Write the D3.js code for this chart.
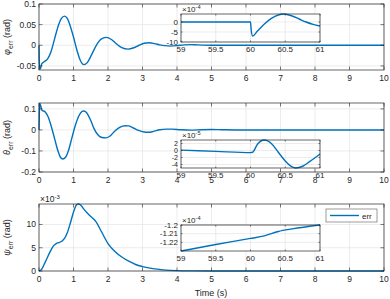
<!DOCTYPE html>
<html>
<head>
<meta charset="utf-8">
<script src="https://cdn.jsdelivr.net/npm/d3@7"></script>
<style>
body { margin: 0; background: #fff; }
text { font-family: "Liberation Sans", Arial, sans-serif; fill: #262626; }
</style>
</head>
<body>
<svg id="chart" width="390" height="299"></svg>
<script>
// values (time in s, errors in rad)
const phiT   = [0, 0.005, 0.02, 0.05, 0.08, 0.15, 0.25, 0.35, 0.45, 0.55, 0.65, 0.74, 0.82, 0.9, 1.0, 1.1, 1.2, 1.3, 1.4, 1.5, 1.6, 1.7, 1.8, 1.95, 2.1, 2.25, 2.4, 2.58, 2.75, 2.9, 3.05, 3.2, 3.35, 3.5, 3.65, 3.8, 4.0, 4.2, 4.4, 4.6, 5, 6, 7, 8, 9, 10];
const phiV   = [0, -0.03, -0.058, -0.055, -0.045, -0.04, -0.033, -0.015, 0.015, 0.045, 0.065, 0.0705, 0.065, 0.048, 0.02, -0.012, -0.037, -0.047, -0.042, -0.027, -0.01, 0.005, 0.015, 0.019, 0.014, 0.003, -0.006, -0.0095, -0.006, 0, 0.005, 0.006, 0.004, 0.001, -0.001, -0.002, -0.001, 0.001, 0.0015, 0.0008, 0, 0, 0, 0, 0, 0];

const thetaT = [0, 0.01, 0.02, 0.05, 0.08, 0.18, 0.27, 0.35, 0.45, 0.55, 0.62, 0.69, 0.77, 0.85, 0.95, 1.05, 1.15, 1.25, 1.3, 1.38, 1.5, 1.6, 1.7, 1.8, 1.94, 2.05, 2.2, 2.35, 2.5, 2.6, 2.75, 2.9, 3.05, 3.17, 3.3, 3.5, 3.7, 3.85, 4.1, 4.4, 4.7, 5.0, 5.3, 5.7, 7, 10];
const thetaV = [0, 0.08, 0.126, 0.115, 0.095, 0.085, 0.06, 0.02, -0.04, -0.1, -0.13, -0.138, -0.13, -0.1, -0.04, 0.02, 0.065, 0.088, 0.09, 0.082, 0.045, 0.005, -0.022, -0.035, -0.038, -0.03, -0.005, 0.013, 0.02, 0.019, 0.008, -0.003, -0.01, -0.011, -0.008, 0.001, 0.004, 0.004, 0.001, -0.001, 0.001, 0.002, 0.001, 0, 0, 0];

const psiT   = [0, 0.08, 0.18, 0.32, 0.42, 0.5, 0.57, 0.66, 0.74, 0.82, 0.92, 1.02, 1.1, 1.15, 1.22, 1.3, 1.42, 1.55, 1.65, 1.8, 2.0, 2.2, 2.4, 2.6, 2.8, 3.0, 3.3, 3.6, 4.0, 4.5, 5, 7, 10];
const psiV   = [0, 0.4, 1.9, 4.1, 5.4, 5.9, 6.1, 6.4, 7.0, 8.2, 10.6, 13.1, 14.3, 14.4, 14.1, 13.3, 12.3, 11.4, 10.6, 8.6, 5.9, 4.2, 3.0, 2.1, 1.4, 0.95, 0.5, 0.25, 0.08, 0.02, 0, 0, 0]; // x1e-3

// zoomed windows 59..61 s
const zPhiT   = [59, 59.5, 60, 60.01, 60.03, 60.1, 60.2, 60.3, 60.4, 60.48, 60.6, 60.7, 60.8, 60.9, 61];
const zPhiV   = [0, 0, 0, -4, -7, -4.5, -1, 1.8, 3.5, 4, 3, 1.5, 0, -1.2, -2]; // x1e-4
const zThetaT = [59, 59.5, 60, 60.03, 60.1, 60.2, 60.3, 60.4, 60.5, 60.6, 60.65, 60.75, 60.85, 61];
const zThetaV = [0.1, -0.25, -0.6, -0.5, 1.8, 3, 2, -0.5, -3, -4.7, -5, -4.5, -3.2, -1]; // x1e-5
const zPsiT   = [59, 59.5, 60, 60.2, 60.4, 60.6, 61];
const zPsiV   = [-1.23, -1.2225, -1.2155, -1.2125, -1.2075, -1.2045, -1.2]; // x1e-4

const mainXTicks = [0, 1, 2, 3, 4, 5, 6, 7, 8, 9, 10];
const zoomXTicks = [59, 59.5, 60, 60.5, 61];

const BLUE = "#0072BD";
const svg = d3.select("#chart");

function panel(o) {
    const x = d3.scaleLinear().domain(o.xd).range([o.x0, o.x1]);
    const y = d3.scaleLinear().domain(o.yd).range([o.y1, o.y0]);
    const g = svg.append("g");
    const tl = o.tick;

    if (o.fill) g.append("rect").attr("x", o.x0).attr("y", o.y0)
        .attr("width", o.x1 - o.x0).attr("height", o.y1 - o.y0).attr("fill", "#fff");

    // grid
    g.append("g").selectAll("line").data(o.xt).enter().append("line")
        .attr("x1", d => x(d)).attr("x2", d => x(d)).attr("y1", o.y0).attr("y2", o.y1)
        .attr("stroke", "#dfdfdf").attr("stroke-width", 0.6);
    g.append("g").selectAll("line").data(o.yt).enter().append("line")
        .attr("y1", d => y(d)).attr("y2", d => y(d)).attr("x1", o.x0).attr("x2", o.x1)
        .attr("stroke", "#dfdfdf").attr("stroke-width", 0.6);

    // data
    const line = d3.line().x(d => x(d[0])).y(d => y(d[1])).curve(d3.curveMonotoneX);
    g.append("path").datum(d3.zip(o.t, o.v)).attr("d", line)
        .attr("fill", "none").attr("stroke", BLUE).attr("stroke-width", o.lw || 1.4);

    // ticks (inward, all four sides)
    const tk = g.append("g").attr("stroke", "#262626").attr("stroke-width", 0.6);
    o.xt.forEach(d => {
        tk.append("line").attr("x1", x(d)).attr("x2", x(d)).attr("y1", o.y1).attr("y2", o.y1 - tl);
        tk.append("line").attr("x1", x(d)).attr("x2", x(d)).attr("y1", o.y0).attr("y2", o.y0 + tl);
    });
    o.yt.forEach(d => {
        tk.append("line").attr("y1", y(d)).attr("y2", y(d)).attr("x1", o.x0).attr("x2", o.x0 + tl);
        tk.append("line").attr("y1", y(d)).attr("y2", y(d)).attr("x1", o.x1).attr("x2", o.x1 - tl);
    });

    g.append("rect").attr("x", o.x0).attr("y", o.y0)
        .attr("width", o.x1 - o.x0).attr("height", o.y1 - o.y0)
        .attr("fill", "none").attr("stroke", "#262626").attr("stroke-width", 0.7);

    // tick labels
    g.append("g").selectAll("text").data(o.xt).enter().append("text")
        .attr("x", d => x(d)).attr("y", o.y1 + o.fs + 2)
        .attr("text-anchor", "middle").attr("font-size", o.fs).text(d => d);
    g.append("g").selectAll("text").data(o.yt).enter().append("text")
        .attr("x", o.x0 - 3).attr("y", d => y(d)).attr("dy", "0.35em")
        .attr("text-anchor", "end").attr("font-size", o.yfs || o.fs).text(d => d);

    if (o.exp) {
        const e = g.append("text").attr("x", o.x0 + 1).attr("y", o.y0 - 2).attr("font-size", o.fs);
        e.append("tspan").text("\u00d710");
        e.append("tspan").attr("dy", -3).attr("font-size", o.fs * 0.7).text(o.exp);
    }
    if (o.ylab) {
        const cy = (o.y0 + o.y1) / 2;
        const t = g.append("text").attr("transform", `translate(${o.ylx},${cy}) rotate(-90)`)
            .attr("text-anchor", "middle").attr("font-size", 9);
        t.append("tspan").attr("font-style", "italic").text(o.ylab);
        t.append("tspan").attr("dy", 2.5).attr("font-size", 7).text("err");
        t.append("tspan").attr("dy", -2.5).text(" (rad)");
    }
    return { x, y };
}

// main panels
panel({ x0: 39, x1: 384, y0: 4, y1: 70, xd: [0, 10], yd: [-0.06, 0.1], xt: mainXTicks,
    yt: [-0.05, 0, 0.05, 0.1], t: phiT, v: phiV, fs: 8.5, tick: 3.5, ylab: "\u03c6", ylx: 10 });
panel({ x0: 39, x1: 384, y0: 103, y1: 172, xd: [0, 10], yd: [-0.2, 0.128], xt: mainXTicks,
    yt: [-0.2, -0.1, 0, 0.1], t: thetaT, v: thetaV, fs: 8.5, tick: 3.5, ylab: "\u03b8", ylx: 10 });
panel({ x0: 39, x1: 384, y0: 204, y1: 271, xd: [0, 10], yd: [0, 14.4], xt: mainXTicks,
    yt: [0, 5, 10], t: psiT, v: psiV, fs: 8.5, tick: 3.5, ylab: "\u03c8", ylx: 10, exp: "-3" });

// zoom insets
panel({ x0: 181, x1: 320, y0: 14, y1: 42, xd: [59, 61], yd: [-10, 4], xt: zoomXTicks,
    yt: [-10, -5, 0], t: zPhiT, v: zPhiV, fs: 8, tick: 1.5, fill: true, exp: "-4" });
panel({ x0: 181, x1: 320, y0: 140, y1: 168, xd: [59, 61], yd: [-5, 3], xt: zoomXTicks,
    yt: [-4, -2, 0, 2], t: zThetaT, v: zThetaV, fs: 8, yfs: 7, tick: 1.5, fill: true, exp: "-5" });
panel({ x0: 181, x1: 320, y0: 225, y1: 251, xd: [59, 61], yd: [-1.23, -1.2], xt: zoomXTicks,
    yt: [-1.22, -1.21, -1.2], t: zPsiT, v: zPsiV, fs: 8, tick: 1.5, fill: true, exp: "-4" });

// x label
svg.append("text").attr("x", 211).attr("y", 296).attr("text-anchor", "middle")
    .attr("font-size", 9).text("Time (s)");

// legend
const lg = svg.append("g");
lg.append("rect").attr("x", 326).attr("y", 209).attr("width", 51).attr("height", 13)
    .attr("fill", "#fff").attr("stroke", "#5a5a5a").attr("stroke-width", 0.6);
lg.append("line").attr("x1", 330).attr("x2", 359).attr("y1", 215.5).attr("y2", 215.5)
    .attr("stroke", BLUE).attr("stroke-width", 1.4);
lg.append("text").attr("x", 362).attr("y", 218.5).attr("font-size", 8).text("err");
</script>
</body>
</html>
